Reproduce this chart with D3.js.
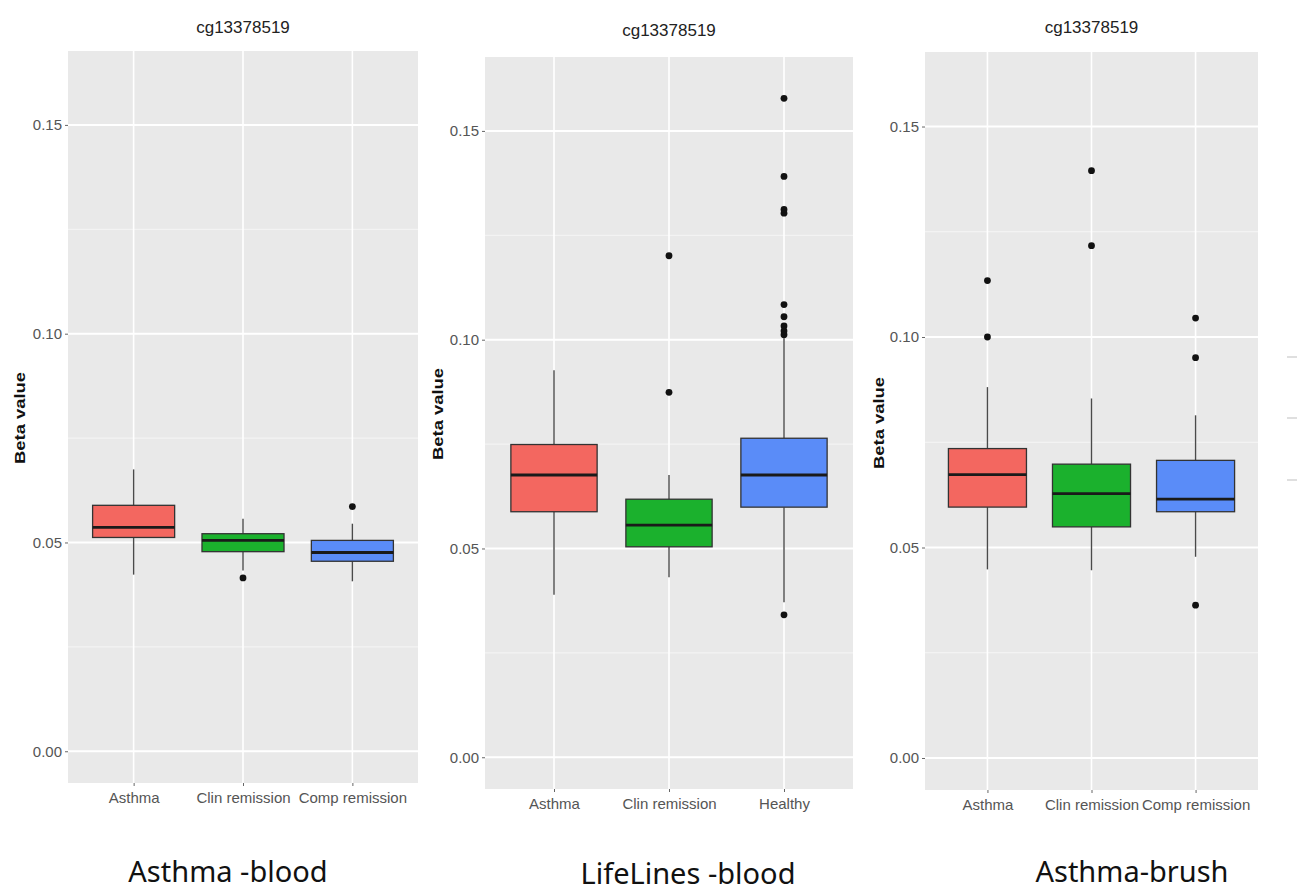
<!DOCTYPE html>
<html>
<head>
<meta charset="utf-8">
<script src="https://cdnjs.cloudflare.com/ajax/libs/d3/7.8.5/d3.min.js"></script>
<style>
  body { margin: 0; background: #fff; }
  svg { display: block; }
  .tick-label { font-family: "Liberation Sans", Arial, sans-serif; fill: #555; }
</style>
</head>
<body>
<div id="chart"></div>
<script>
// --- data ---
var yTicks = [0, 0.05, 0.10, 0.15];
var yMinor = [0.025, 0.075, 0.125];
var yDomain = [-0.0076, 0.1677];
var probeTitle = 'cg13378519';

var bloodGroups = ['Asthma', 'Clin remission', 'Comp remission'];
var bloodLow = [0.0423, 0.0433, 0.0407];
var bloodQ1 = [0.0512, 0.0478, 0.0455];
var bloodMed = [0.0536, 0.0505, 0.0476];
var bloodQ3 = [0.0589, 0.0521, 0.0505];
var bloodHigh = [0.0675, 0.0557, 0.0545];
var bloodOutliers = [[], [0.0415], [0.0586]];

var lifelinesGroups = ['Asthma', 'Clin remission', 'Healthy'];
var lifelinesLow = [0.0389, 0.0431, 0.0371];
var lifelinesQ1 = [0.0588, 0.0504, 0.0599];
var lifelinesMed = [0.0676, 0.0556, 0.0676];
var lifelinesQ3 = [0.0749, 0.0618, 0.0764];
var lifelinesHigh = [0.0927, 0.0676, 0.1005];
var lifelinesOutliers = [[], [0.0874, 0.1201],
  [0.0341, 0.1012, 0.1021, 0.1033, 0.1055, 0.1084, 0.1303, 0.1312, 0.1391, 0.1578]];

var brushGroups = ['Asthma', 'Clin remission', 'Comp remission'];
var brushLow = [0.0448, 0.0446, 0.0478];
var brushQ1 = [0.0596, 0.0549, 0.0585];
var brushMed = [0.0673, 0.0628, 0.0615];
var brushQ3 = [0.0735, 0.0698, 0.0707];
var brushHigh = [0.0881, 0.0854, 0.0814];
var brushOutliers = [[0.1000, 0.1134], [0.1217, 0.1395], [0.0363, 0.0951, 0.1045]];

var fills = ['#f36760', '#1bb12d', '#5a8cf8'];

function stats(groups, low, q1, med, q3, high, outliers) {
  return groups.map(function(g, i) {
    return { group: g, i: i, low: low[i], q1: q1[i], med: med[i], q3: q3[i], high: high[i], out: outliers[i] };
  });
}

// --- layout ---
var panels = [
  { rows: stats(bloodGroups, bloodLow, bloodQ1, bloodMed, bloodQ3, bloodHigh, bloodOutliers),
    x0: 68, x1: 418, y0: 51, y1: 783, titleY: 33, ytitleX: 20, ytitleY: 418,
    caption: 'Asthma -blood', capX: 228, capY: 882 },
  { rows: stats(lifelinesGroups, lifelinesLow, lifelinesQ1, lifelinesMed, lifelinesQ3, lifelinesHigh, lifelinesOutliers),
    x0: 485, x1: 853, y0: 57, y1: 789, titleY: 36, ytitleX: 438, ytitleY: 414,
    caption: 'LifeLines -blood', capX: 688, capY: 884 },
  { rows: stats(brushGroups, brushLow, brushQ1, brushMed, brushQ3, brushHigh, brushOutliers),
    x0: 925, x1: 1258, y0: 52, y1: 790, titleY: 33, ytitleX: 879, ytitleY: 423,
    caption: 'Asthma-brush', capX: 1132, capY: 882 }
];

var svg = d3.select('#chart').append('svg')
  .attr('width', 1308)
  .attr('height', 893);

panels.forEach(function(p) {
  var x = d3.scaleLinear().domain([0.4, p.rows.length + 0.6]).range([p.x0, p.x1]);
  var y = d3.scaleLinear().domain(yDomain).range([p.y1, p.y0]);
  var g = svg.append('g');

  g.append('rect')
    .attr('x', p.x0).attr('y', p.y0)
    .attr('width', p.x1 - p.x0).attr('height', p.y1 - p.y0)
    .attr('fill', '#e9e9e9');

  g.selectAll('line.minor').data(yMinor)
    .enter().append('line')
    .attr('x1', p.x0).attr('x2', p.x1)
    .attr('y1', y).attr('y2', y)
    .attr('stroke', '#f6f6f6').attr('stroke-width', 1);

  g.selectAll('line.major').data(yTicks)
    .enter().append('line')
    .attr('x1', p.x0).attr('x2', p.x1)
    .attr('y1', y).attr('y2', y)
    .attr('stroke', '#fff').attr('stroke-width', 2);

  g.selectAll('line.vgrid').data(p.rows)
    .enter().append('line')
    .attr('x1', function(d) { return x(d.i + 1); })
    .attr('x2', function(d) { return x(d.i + 1); })
    .attr('y1', p.y0).attr('y2', p.y1)
    .attr('stroke', '#fff').attr('stroke-width', 1.6);

  // axes
  var yAxis = d3.axisLeft(y).tickValues(yTicks).tickFormat(d3.format('.2f')).tickSize(3).tickPadding(3);
  var ya = g.append('g').attr('transform', 'translate(' + p.x0 + ',0)').call(yAxis);
  ya.select('.domain').remove();
  ya.selectAll('.tick line').attr('stroke', '#666');
  ya.selectAll('.tick text').attr('class', 'tick-label').style('font-size', '15px');

  var xAxis = d3.axisBottom(x).tickValues(p.rows.map(function(d) { return d.i + 1; }))
    .tickFormat(function(v) { return p.rows[v - 1].group; }).tickSize(3).tickPadding(6);
  var xa = g.append('g').attr('transform', 'translate(0,' + p.y1 + ')').call(xAxis);
  xa.select('.domain').remove();
  xa.selectAll('.tick line').attr('stroke', '#666');
  xa.selectAll('.tick text').attr('class', 'tick-label').style('font-size', '15px');

  // boxes
  var half = 0.375;
  var box = g.selectAll('g.box').data(p.rows).enter().append('g');

  box.append('line')
    .attr('x1', function(d) { return x(d.i + 1); })
    .attr('x2', function(d) { return x(d.i + 1); })
    .attr('y1', function(d) { return y(d.high); })
    .attr('y2', function(d) { return y(d.q3); })
    .attr('stroke', '#4a4a4a').attr('stroke-width', 1.4);
  box.append('line')
    .attr('x1', function(d) { return x(d.i + 1); })
    .attr('x2', function(d) { return x(d.i + 1); })
    .attr('y1', function(d) { return y(d.q1); })
    .attr('y2', function(d) { return y(d.low); })
    .attr('stroke', '#4a4a4a').attr('stroke-width', 1.4);

  box.append('rect')
    .attr('x', function(d) { return x(d.i + 1 - half); })
    .attr('width', function(d) { return x(d.i + 1 + half) - x(d.i + 1 - half); })
    .attr('y', function(d) { return y(d.q3); })
    .attr('height', function(d) { return y(d.q1) - y(d.q3); })
    .attr('fill', function(d) { return fills[d.i]; })
    .attr('stroke', '#333').attr('stroke-width', 1.3);

  box.append('line')
    .attr('x1', function(d) { return x(d.i + 1 - half); })
    .attr('x2', function(d) { return x(d.i + 1 + half); })
    .attr('y1', function(d) { return y(d.med); })
    .attr('y2', function(d) { return y(d.med); })
    .attr('stroke', '#1a1a1a').attr('stroke-width', 2.8);

  box.selectAll('circle').data(function(d) {
    return d.out.map(function(v) { return { i: d.i, v: v }; });
  }).enter().append('circle')
    .attr('cx', function(d) { return x(d.i + 1); })
    .attr('cy', function(d) { return y(d.v); })
    .attr('r', 3.4)
    .attr('fill', '#111');

  // titles
  g.append('text')
    .attr('x', (p.x0 + p.x1) / 2).attr('y', p.titleY)
    .attr('text-anchor', 'middle')
    .attr('class', 'tick-label')
    .style('fill', '#222').style('font-size', '17px')
    .text(probeTitle);

  g.append('text')
    .attr('transform', 'translate(' + (p.ytitleX + 5) + ',' + p.ytitleY + ') rotate(-90)')
    .attr('text-anchor', 'middle')
    .attr('textLength', 92).attr('lengthAdjust', 'spacingAndGlyphs')
    .style('font-family', '"Liberation Sans", Arial, sans-serif')
    .style('font-weight', 'bold').style('font-size', '15px').style('fill', '#111')
    .text('Beta value');

  g.append('text')
    .attr('x', p.capX).attr('y', p.capY)
    .attr('text-anchor', 'middle')
    .style('font-family', '"Noto Sans", "Open Sans", sans-serif')
    .style('font-size', '29px').style('fill', '#111')
    .text(p.caption);
});

// faint legend remnants at the right edge
var remnantY = [357, 418, 480];
svg.selectAll('line.remnant').data(remnantY)
  .enter().append('line')
  .attr('x1', 1287).attr('x2', 1297)
  .attr('y1', function(d) { return d; }).attr('y2', function(d) { return d; })
  .attr('stroke', '#d4d4d4').attr('stroke-width', 1.5);
</script>
</body>
</html>
